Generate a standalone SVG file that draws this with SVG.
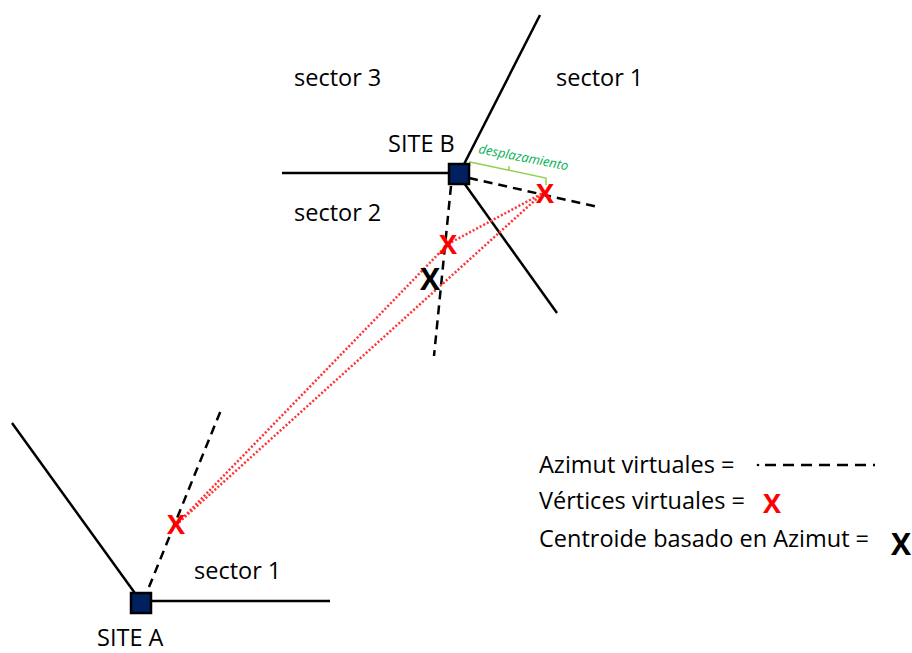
<svg xmlns="http://www.w3.org/2000/svg" width="912" height="653" viewBox="0 0 912 653">
<defs>
<style>
.ln{stroke:#000;stroke-width:2.5;fill:none}
.dash{stroke:#000;stroke-width:2.5;fill:none;stroke-dasharray:9 6}
.dot{stroke:#ff3333;stroke-width:2.5;fill:none;stroke-dasharray:2 2}
.site{fill:#002060;stroke:#000;stroke-width:2.5}
.t{font-family:"Open Sans","Liberation Sans",sans-serif;font-size:23.5px;fill:#000}
.xr{font-family:"Open Sans","Liberation Sans",sans-serif;font-weight:bold;font-size:27px;fill:#ff0000;text-anchor:middle}
.xb{font-family:"Open Sans","Liberation Sans",sans-serif;font-weight:bold;font-size:30px;fill:#000;text-anchor:middle}
</style>
</defs>
<rect width="912" height="653" fill="#fff"/>
<g id="connectors">
<line class="ln" x1="459" y1="174" x2="540" y2="15"/>
<line class="ln" x1="282" y1="173" x2="459" y2="173"/>
<line class="ln" x1="459" y1="176" x2="557" y2="313"/>
<line class="dash" x1="469" y1="178" x2="598" y2="207"/>
<line class="dash" x1="451" y1="186" x2="434" y2="356"/>
<line class="ln" x1="12" y1="423" x2="137" y2="596"/>
<line class="ln" x1="150" y1="601" x2="330" y2="601"/>
<line class="dash" x1="149" y1="587" x2="221" y2="410"/>
<line class="dot" x1="176" y1="525" x2="448" y2="244"/>
<line class="dot" x1="176" y1="525" x2="543" y2="193"/>
<line class="dot" x1="448" y1="244" x2="543" y2="193"/>
<polyline points="470,166 470,162 546,178 546,185" fill="none" stroke="#92d050" stroke-width="1.5"/>
<line x1="509" y1="170" x2="509" y2="166" stroke="#92d050" stroke-width="1.5"/>
</g>
<g id="siteB">
<rect class="site" x="449" y="164" width="20" height="20"/>
<text class="t" x="388" y="152">SITE B</text>
</g>
<g id="siteA">
<rect class="site" x="131" y="593" width="20" height="20"/>
<text class="t" x="97" y="646">SITE A</text>
</g>
<g id="labels">
<text class="t" x="294" y="86">sector 3</text>
<text class="t" x="556" y="86">sector 1</text>
<text class="t" x="294" y="221">sector 2</text>
<text class="t" x="194" y="579">sector 1</text>
<text x="478" y="153" transform="rotate(11 478 153)" font-family="'Open Sans','Liberation Sans',sans-serif" font-style="italic" font-size="13" fill="#00b050">desplazamiento</text>
</g>
<g id="markers">
<text class="xr" x="545" y="203">X</text>
<text class="xr" x="448" y="254">X</text>
<text class="xr" x="176" y="534">X</text>
<text class="xb" x="430" y="290">X</text>
</g>
<g id="legend">
<text class="t" x="539" y="473">Azimut virtuales =</text>
<circle cx="758" cy="465" r="1.3" fill="#000"/>
<line x1="765" y1="465" x2="875" y2="465" stroke="#000" stroke-width="2.5" stroke-dasharray="11 7"/>
<text class="t" x="539" y="509">Vértices virtuales =</text>
<text class="xr" x="772" y="513" font-size="24">X</text>
<text class="t" x="539" y="547">Centroide basado en Azimut =</text>
<text class="xb" x="901" y="555" font-size="27">X</text>
</g>
</svg>
